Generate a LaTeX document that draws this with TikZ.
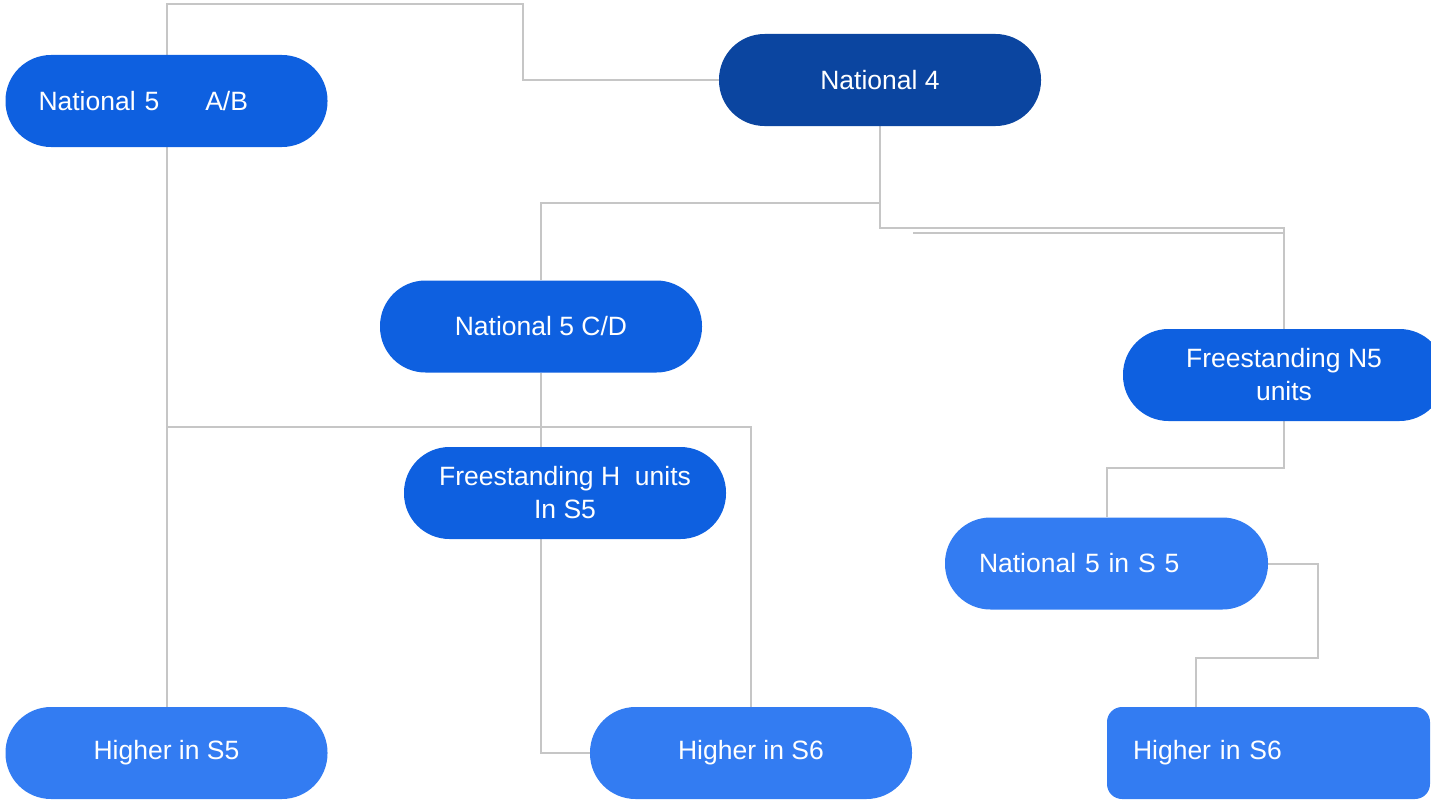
\documentclass[tikz,border=0pt]{standalone}
\usepackage{fontspec}
\setmainfont{Liberation Sans}
\usetikzlibrary{backgrounds}
\definecolor{midblue}{HTML}{0E60E0}
\definecolor{darkblue}{HTML}{0B45A0}
\definecolor{lightblue}{HTML}{337CF2}
\definecolor{conncol}{HTML}{C6C6C6}
\begin{document}
\begin{tikzpicture}[x=1pt,y=-1pt,
  box/.style={rectangle, rounded corners=45.5pt, minimum width=322pt, minimum height=92pt,
    text=white, font=\fontsize{26.5}{33}\selectfont, inner sep=0pt, align=center},
  conn/.style={draw=conncol, line width=2pt}]
\useasboundingbox (0,0) rectangle (1431,800);
\clip (0,0) rectangle (1431,800);
\node[box, fill=midblue, text width=256pt, inner xsep=33pt, align=left] (n5ab) at (166.5,101) {National 5\hspace{46pt}A/B};
\node[box, fill=darkblue] (n4) at (880,80) {National 4};
\node[box, fill=midblue] (n5cd) at (541,326.5) {National 5 C/D};
\node[box, fill=midblue] (fn5) at (1284,375) {Freestanding N5\\units};
\node[box, fill=midblue] (fh) at (565,493) {Freestanding H\ \ units\\In S5};
\node[box, fill=lightblue, text width=255pt, inner xsep=34pt, align=left] (n5s5) at (1106.5,563.5) {National 5 in S 5};
\node[box, fill=lightblue] (hs5) at (166.5,753) {Higher in S5};
\node[box, fill=lightblue] (hs6a) at (751,753) {Higher in S6};
\node[box, fill=lightblue, rounded corners=15pt, text width=271pt, inner xsep=26pt, align=left] (hs6b) at (1268.5,753) {Higher in S6};
\coordinate (d1) at (913,233);
\begin{scope}[on background layer]
\draw[conn] (n5ab.north) |- (523,4) |- (n4.west);
\draw[conn] (n4.south) -- ++(0,77) -| (n5cd.north);
\draw[conn] (n4.south) -- ++(0,102) -| (fn5.north);
\draw[conn] (d1) -- (d1 -| fn5.north);
\draw[conn] (n5ab.south) -- (hs5.north);
\draw[conn] (n5ab.south |- 0,427) -| (hs6a.north);
\draw[conn] (n5cd.south) -- (n5cd.south |- fh.north);
\draw[conn] (n5cd.south |- fh.south) |- (hs6a.west);
\draw[conn] (fn5.south) -- ++(0,47) -| (n5s5.north);
\draw[conn] (n5s5.east) -| (1318,658) -| ([xshift=-72.5pt]hs6b.north);
\end{scope}
\end{tikzpicture}
\end{document}
